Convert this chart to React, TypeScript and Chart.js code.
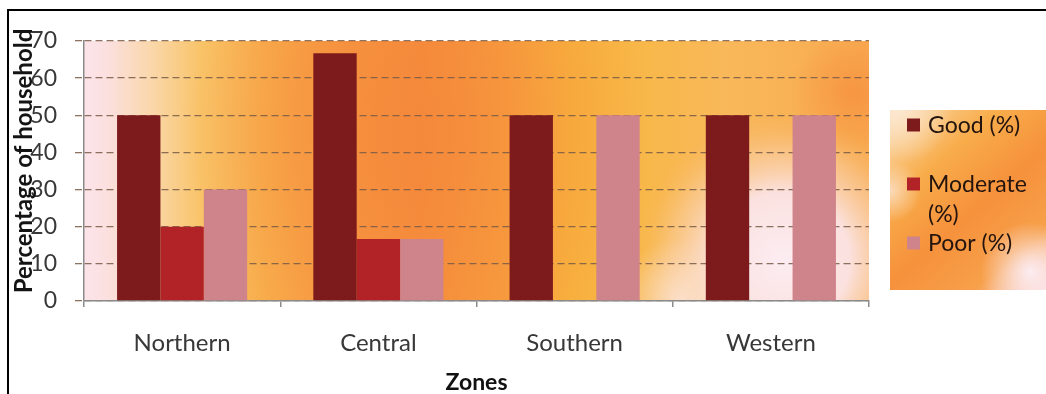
import React, { useEffect, useRef } from "react";
import { Chart, registerables } from "chart.js";

Chart.register(...registerables);

const zones = ["Northern", "Central", "Southern", "Western"];
const goodPct = [50, 66.67, 50, 50];
const moderatePct = [20, 16.67, 0, 0];
const poorPct = [30, 16.67, 50, 50];
const seriesLabels = ["Good (%)", "Moderate (%)", "Poor (%)"];
const seriesColors = ["#7d1b1c", "#b12327", "#cf838a"];
const yMin = 0;
const yMax = 70;
const yStep = 10;
const yTitle = "Percentage of household";
const xTitle = "Zones";

const FONT = "Lato, 'Open Sans', sans-serif";

const backgroundPlugin = {
  id: "bgPlugin",
  beforeDraw(chart: any) {
    const { ctx, chartArea: a, width, height } = chart;
    ctx.save();
    ctx.fillStyle = "#ffffff";
    ctx.fillRect(0, 0, width, height);
    const w = a.right - a.left;
    const h = a.bottom - a.top;
    ctx.beginPath();
    ctx.rect(a.left, a.top, w, h);
    ctx.clip();
    const lg = ctx.createLinearGradient(a.left, 0, a.right, 0);
    lg.addColorStop(0, "#fce4ea");
    lg.addColorStop(0.03, "#fbe0df");
    lg.addColorStop(0.09, "#fad6a6");
    lg.addColorStop(0.15, "#f9c468");
    lg.addColorStop(0.23, "#f8ad4c");
    lg.addColorStop(0.31, "#f79a42");
    lg.addColorStop(0.43, "#f58d3c");
    lg.addColorStop(0.53, "#f79c3e");
    lg.addColorStop(0.62, "#f8b03e");
    lg.addColorStop(0.72, "#f8b84a");
    lg.addColorStop(0.82, "#f9b85a");
    lg.addColorStop(1, "#f8aa50");
    ctx.fillStyle = lg;
    ctx.fillRect(a.left, a.top, w, h);

    const r1 = ctx.createRadialGradient(a.left + w * 0.42, a.top + h * 0.35, 0, a.left + w * 0.42, a.top + h * 0.35, w * 0.3);
    r1.addColorStop(0, "rgba(244,132,58,0.55)");
    r1.addColorStop(1, "rgba(244,132,58,0)");
    ctx.fillStyle = r1;
    ctx.fillRect(a.left, a.top, w, h);

    const cx = a.left + w * 0.89;
    const cy = a.top + h * 0.84;
    const r2 = ctx.createRadialGradient(cx, cy, 0, cx, cy, w * 0.19);
    r2.addColorStop(0, "rgba(252,236,242,1)");
    r2.addColorStop(0.45, "rgba(251,228,230,0.95)");
    r2.addColorStop(0.75, "rgba(250,205,160,0.55)");
    r2.addColorStop(1, "rgba(248,180,90,0)");
    ctx.fillStyle = r2;
    ctx.fillRect(a.left, a.top, w, h);

    const cx3 = a.left + w * 0.76;
    const cy3 = a.bottom;
    const r3 = ctx.createRadialGradient(cx3, cy3, 0, cx3, cy3, w * 0.08);
    r3.addColorStop(0, "rgba(252,226,210,0.9)");
    r3.addColorStop(1, "rgba(252,226,210,0)");
    ctx.fillStyle = r3;
    ctx.fillRect(a.left, a.top, w, h);

    const cx4 = a.right - w * 0.02;
    const cy4 = a.top + h * 0.2;
    const r4 = ctx.createRadialGradient(cx4, cy4, 0, cx4, cy4, w * 0.08);
    r4.addColorStop(0, "rgba(246,140,60,0.7)");
    r4.addColorStop(1, "rgba(246,140,60,0)");
    ctx.fillStyle = r4;
    ctx.fillRect(a.left, a.top, w, h);
    ctx.restore();
  },
  afterDraw(chart: any) {
    const { ctx, chartArea: a, width, height } = chart;
    ctx.save();
    ctx.fillStyle = "#000";
    ctx.fillRect(7, 9, width - 7, 2);
    ctx.fillRect(7, 9, 2, height - 9);

    // y-axis title, overlapping the tick labels as in the original
    ctx.save();
    ctx.translate(24, (a.top + a.bottom) / 2 - 10);
    ctx.rotate(-Math.PI / 2);
    ctx.font = `bold 24px ${FONT}`;
    ctx.fillStyle = "#141414";
    ctx.textAlign = "center";
    ctx.textBaseline = "middle";
    ctx.fillText(yTitle, 0, 0);
    ctx.restore();

    // legend box
    const lx = a.right + 21;
    const ly = 110;
    const lw = width - lx;
    const lh = 180;
    ctx.beginPath();
    ctx.rect(lx, ly, lw, lh);
    ctx.clip();
    const lg = ctx.createLinearGradient(lx, ly, lx + lw, ly + lh);
    lg.addColorStop(0, "#fbdcb0");
    lg.addColorStop(0.3, "#f8ac4a");
    lg.addColorStop(0.55, "#f6913c");
    lg.addColorStop(0.8, "#f7a04a");
    lg.addColorStop(1, "#fbd8d8");
    ctx.fillStyle = lg;
    ctx.fillRect(lx, ly, lw, lh);
    const rp = ctx.createRadialGradient(lx + lw * 0.9, ly + lh * 0.9, 0, lx + lw * 0.9, ly + lh * 0.9, lw * 0.32);
    rp.addColorStop(0, "rgba(252,236,242,1)");
    rp.addColorStop(1, "rgba(252,236,242,0)");
    ctx.fillStyle = rp;
    ctx.fillRect(lx, ly, lw, lh);
    const rl = ctx.createRadialGradient(lx, ly + lh * 0.45, 0, lx, ly + lh * 0.45, lw * 0.2);
    rl.addColorStop(0, "rgba(251,222,195,0.9)");
    rl.addColorStop(1, "rgba(251,222,195,0)");
    ctx.fillStyle = rl;
    ctx.fillRect(lx, ly, lw, lh);
    const rt = ctx.createRadialGradient(lx + lw * 0.05, ly, 0, lx + lw * 0.05, ly, lw * 0.35);
    rt.addColorStop(0, "rgba(252,232,210,0.95)");
    rt.addColorStop(1, "rgba(252,232,210,0)");
    ctx.fillStyle = rt;
    ctx.fillRect(lx, ly, lw, lh);

    ctx.font = `23px ${FONT}`;
    ctx.textBaseline = "middle";
    ctx.textAlign = "left";
    const boxX = lx + 17;
    const textX = lx + 38;
    const maxW = lw - 40;
    const lineH = 29.5;
    let y = ly + 15;
    chart.data.datasets.forEach((ds: any) => {
      const words = String(ds.label).split(" ");
      const lines: string[] = [];
      let cur = "";
      words.forEach((wd) => {
        const t = cur ? cur + " " + wd : wd;
        if (cur && ctx.measureText(t).width > maxW) {
          lines.push(cur);
          cur = wd;
        } else cur = t;
      });
      if (cur) lines.push(cur);
      ctx.fillStyle = ds.backgroundColor;
      ctx.fillRect(boxX, y - 6.5, 13, 13);
      ctx.fillStyle = "#24140e";
      lines.forEach((ln, k) => ctx.fillText(ln, textX, y + k * lineH + 1));
      y += Math.max(2, lines.length) * lineH;
    });
    ctx.restore();
  },
};

export default function App() {
  const ref = useRef<HTMLCanvasElement>(null);
  useEffect(() => {
    const chart = new Chart(ref.current as HTMLCanvasElement, {
      type: "bar",
      data: {
        labels: zones,
        datasets: [
          { label: seriesLabels[0], data: goodPct, backgroundColor: seriesColors[0] },
          { label: seriesLabels[1], data: moderatePct, backgroundColor: seriesColors[1] },
          { label: seriesLabels[2], data: poorPct, backgroundColor: seriesColors[2] },
        ],
      },
      options: {
        responsive: false,
        animation: false,
        devicePixelRatio: 1,
        layout: { padding: { top: 41, right: 177, left: 0, bottom: 0 } },
        datasets: { bar: { categoryPercentage: 0.663, barPercentage: 1, borderWidth: 0 } },
        plugins: { legend: { display: false }, tooltip: { enabled: false }, title: { display: false } },
        scales: {
          x: {
            grid: { display: true, drawOnChartArea: false, drawTicks: true, tickLength: 6, color: "#8a8a8a", lineWidth: 1.5, offset: true },
            border: { display: true, color: "#8a8a8a", width: 1.5 },
            ticks: { color: "#383838", font: { family: FONT, size: 24 }, padding: 22, maxRotation: 0, autoSkip: false },
            title: { display: true, text: xTitle, color: "#111", font: { family: FONT, size: 23, weight: "bold", lineHeight: 1 }, padding: { top: 0, bottom: 0 } },
            afterFit: (s: any) => { s.height = 93; },
          },
          y: {
            min: yMin,
            max: yMax,
            ticks: { stepSize: yStep, color: "#383838", font: { family: FONT, size: 23 }, padding: 18 },
            grid: { color: "rgba(120,90,70,0.85)", lineWidth: 1.3, tickLength: 9, drawTicks: true, tickBorderDash: [7, 4] },
            border: { display: true, color: "#8a8a8a", width: 1.5, dash: [7, 4] },
            title: { display: false },
            afterFit: (s: any) => { s.width = 84; },
          },
        },
      },
      plugins: [backgroundPlugin],
    } as any);
    return () => chart.destroy();
  }, []);
  return (
    <div style={{ position: "absolute", left: 0, top: 0, width: 1046, height: 394, background: "#fff" }}>
      <canvas ref={ref} width={1046} height={394} style={{ display: "block", width: 1046, height: 394 }} />
    </div>
  );
}
